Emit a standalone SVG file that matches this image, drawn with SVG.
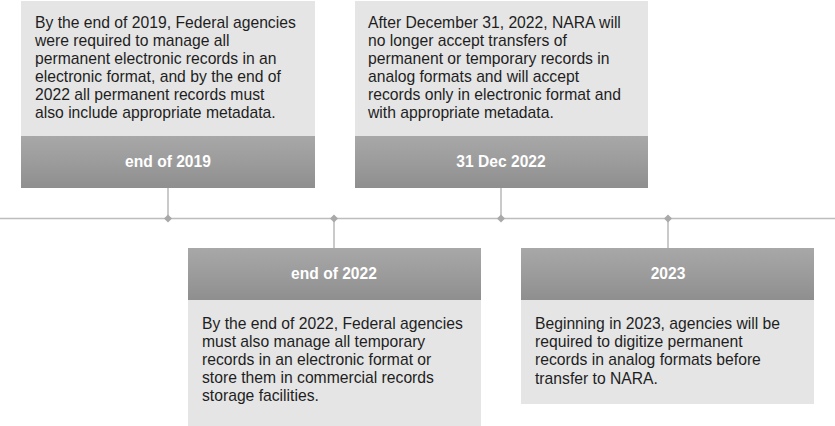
<svg xmlns="http://www.w3.org/2000/svg" width="835" height="426" viewBox="0 0 835 426">
<defs>
<linearGradient id="hdr" x1="0" y1="0" x2="0" y2="1">
<stop offset="0" stop-color="#a8a8a8"/>
<stop offset="1" stop-color="#8f8f8f"/>
</linearGradient>
<style>
.body{fill:#e5e5e5}
.hdr{fill:url(#hdr)}
.t{font-family:"Liberation Sans",Arial,sans-serif;font-size:15.7px;fill:#1e1e1e}
.h{font-family:"Liberation Sans",Arial,sans-serif;font-size:15.6px;font-weight:bold;fill:#ffffff;text-anchor:middle}
.ln{stroke:#bdbdbd;stroke-width:1.6;fill:none}
.dm{fill:#a9a9a9}
</style>
</defs>
<g id="connectors">
<line class="ln" x1="0" y1="218.5" x2="835" y2="218.5"/>
<line class="ln" x1="168" y1="188" x2="168" y2="218.5"/>
<line class="ln" x1="501" y1="188" x2="501" y2="218.5"/>
<line class="ln" x1="334" y1="218.5" x2="334" y2="248"/>
<line class="ln" x1="668" y1="218.5" x2="668" y2="248"/>
<path class="dm" d="M168 214.5L172 218.5L168 222.5L164 218.5Z"/>
<path class="dm" d="M334 214.5L338 218.5L334 222.5L330 218.5Z"/>
<path class="dm" d="M501 214.5L505 218.5L501 222.5L497 218.5Z"/>
<path class="dm" d="M668 214.5L672 218.5L668 222.5L664 218.5Z"/>
</g>
<g id="node-2019">
<rect class="body" x="21" y="1" width="294" height="135"/>
<rect class="hdr" x="21" y="136" width="294" height="52"/>
<text class="h" x="168" y="167">end of 2019</text>
<text class="t" x="35" y="28">By the end of 2019, Federal agencies</text>
<text class="t" x="35" y="46">were required to manage all</text>
<text class="t" x="35" y="64">permanent electronic records in an</text>
<text class="t" x="35" y="82">electronic format, and by the end of</text>
<text class="t" x="35" y="100">2022 all permanent records must</text>
<text class="t" x="35" y="118">also include appropriate metadata.</text>
</g>
<g id="node-dec2022">
<rect class="body" x="355" y="1" width="293" height="135"/>
<rect class="hdr" x="355" y="136" width="293" height="52"/>
<text class="h" x="501" y="167">31 Dec 2022</text>
<text class="t" x="368" y="28">After December 31, 2022, NARA will</text>
<text class="t" x="368" y="46">no longer accept transfers of</text>
<text class="t" x="368" y="64">permanent or temporary records in</text>
<text class="t" x="368" y="82">analog formats and will accept</text>
<text class="t" x="368" y="100">records only in electronic format and</text>
<text class="t" x="368" y="118">with appropriate metadata.</text>
</g>
<g id="node-2022">
<rect class="hdr" x="188" y="248" width="293" height="52"/>
<rect class="body" x="188" y="300" width="293" height="126"/>
<text class="h" x="334" y="279">end of 2022</text>
<text class="t" x="202" y="329">By the end of 2022, Federal agencies</text>
<text class="t" x="202" y="347">must also manage all temporary</text>
<text class="t" x="202" y="365">records in an electronic format or</text>
<text class="t" x="202" y="383">store them in commercial records</text>
<text class="t" x="202" y="401">storage facilities.</text>
</g>
<g id="node-2023">
<rect class="hdr" x="521" y="248" width="293" height="52"/>
<rect class="body" x="521" y="300" width="293" height="104"/>
<text class="h" x="668" y="279">2023</text>
<text class="t" x="535" y="329">Beginning in 2023, agencies will be</text>
<text class="t" x="535" y="347">required to digitize permanent</text>
<text class="t" x="535" y="365">records in analog formats before</text>
<text class="t" x="535" y="384">transfer to NARA.</text>
</g>
</svg>
